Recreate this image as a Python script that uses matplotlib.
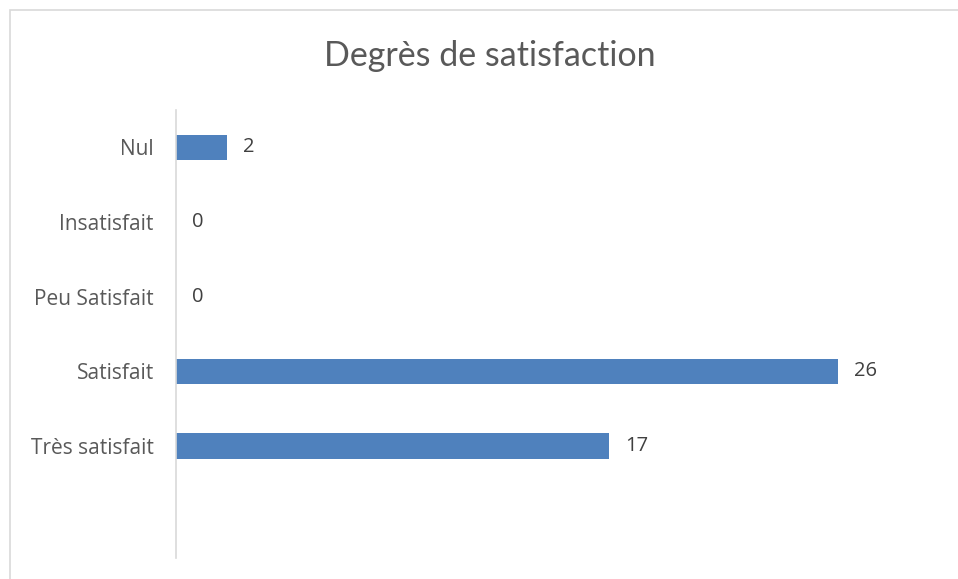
import matplotlib
matplotlib.use("Agg")
import matplotlib.pyplot as plt
from matplotlib.patches import Rectangle

# Data (bottom to top, with the empty slot at the bottom)
categories = ["", "Très satisfait", "Satisfait", "Peu Satisfait", "Insatisfait", "Nul"]
values = [None, 17, 26, 0, 0, 2]
title = "Degrès de satisfaction"

plt.rcParams['font.family'] = ['Open Sans', 'DejaVu Sans']

fig = plt.figure(figsize=(9.58, 5.79), dpi=100)
W, H = 958, 579

# outer chart frame (only left and top visible in the reference crop)
fig.patches.append(Rectangle((10 / W, -0.1), 1.2, 1 - 10 / H + 0.1,
                             transform=fig.transFigure, fill=False,
                             edgecolor="#d9d9d9", linewidth=1.2))

ax = fig.add_axes([176 / W, 1 - 558 / H, (940 - 176) / W, (558 - 110) / H])

pos = list(range(len(categories)))
bar_vals = [v if v is not None else 0 for v in values]
ax.barh(pos, bar_vals, height=0.34, color="#4f81bd", zorder=2)

for p, v in zip(pos, values):
    if v is None:
        continue
    ax.annotate(str(v), (v, p), xytext=(16, 0), textcoords="offset pixels",
                ha="left", va="center", fontsize=14.5, color="#404040")

ax.set_xlim(0, 30)
ax.set_ylim(-0.5, len(categories) - 0.5)
ax.set_yticks(pos)
ax.set_yticklabels(categories, fontsize=15, color="#595959")
ax.tick_params(axis="y", length=0, pad=16)
ax.set_xticks([])

for s in ["top", "right", "bottom"]:
    ax.spines[s].set_visible(False)
ax.spines["left"].set_color("#d9d9d9")
ax.spines["left"].set_linewidth(1.2)

fig.text(490 / W, 1 - 56 / H, title, ha="center", va="center",
         fontsize=24.5, color="#595959", family=["Lato", "DejaVu Sans"])

fig.savefig("out.png", dpi=100)
